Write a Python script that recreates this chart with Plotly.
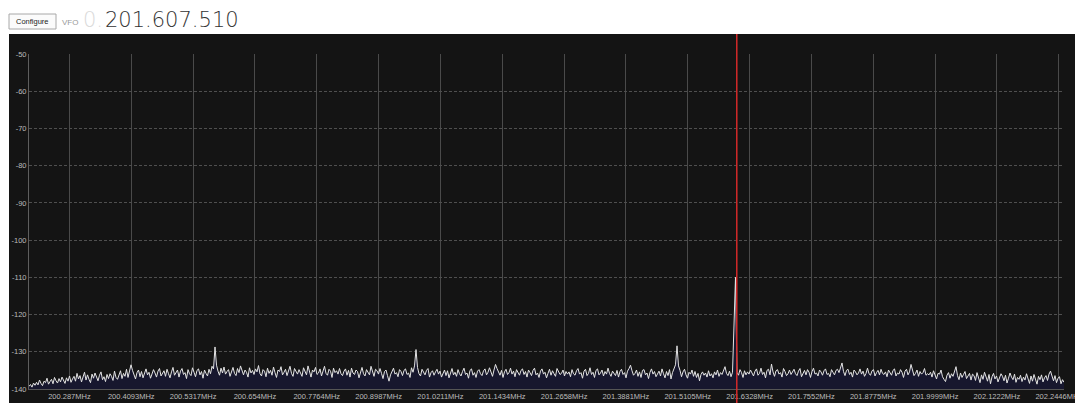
import plotly.graph_objects as go

# ---- data ----
F_START = 200.207          # MHz, left edge of the span
F_SPAN = 2.048             # MHz
FLOOR = -140               # dB, bottom of the scale
VFO_MHZ = 201.60751

TICK_FREQS = [200.287, 200.4093, 200.5317, 200.654, 200.7764, 200.8987, 201.0211,
              201.1434, 201.2658, 201.3881, 201.5105, 201.6328, 201.7552, 201.8775,
              201.9999, 202.1222, 202.2446]
TICK_LABELS = ["200.287MHz", "200.4093MHz", "200.5317MHz", "200.654MHz", "200.7764MHz",
               "200.8987MHz", "201.0211MHz", "201.1434MHz", "201.2658MHz", "201.3881MHz",
               "201.5105MHz", "201.6328MHz", "201.7552MHz", "201.8775MHz", "201.9999MHz",
               "202.1222MHz", "202.2446MHz"]
DB_TICKS = [-140, -130, -120, -110, -100, -90, -80, -70, -60, -50]

LEVELS = [
    -139.3, -138.8, -139.5, -138.4, -139.0, -138.2, -138.9, -137.6, -138.5, -139.1, -137.9, -138.3, -137.1, -138.7, -138.0, -137.4, -138.6, -136.9, -137.8, -138.4, -137.2, -138.1, -136.8, -137.7, -138.5, -137.0, -137.9, -136.5, -138.2, -137.3,
    -136.6, -137.9, -135.8, -137.3, -136.4, -138.1, -136.9, -135.5, -137.6, -136.2, -137.4, -138.3, -136.0, -137.1, -135.7, -136.8, -137.8, -136.3, -135.4, -137.5, -136.7, -138.0, -136.1, -137.2, -135.9, -136.6, -137.7, -135.2, -136.9, -137.4,
    -136.3, -135.1, -137.2, -135.8, -136.6, -134.7, -136.9, -135.4, -133.5, -135.0, -136.4, -137.3, -135.6, -134.9, -136.7, -135.3, -137.0, -135.9, -134.6, -136.2, -135.5, -137.1, -136.0, -134.8, -135.7, -136.8, -135.2, -134.5, -136.5, -135.8,
    -135.1, -136.6, -134.7, -135.9, -137.0, -135.4, -134.2, -136.3, -135.7, -134.9, -136.8, -135.2, -134.5, -136.1, -135.6, -137.2, -134.8, -135.9, -136.4, -134.3, -135.5, -136.7, -135.0, -134.6, -136.2, -135.3, -137.1, -134.9, -135.8, -136.5,
    -134.7, -135.9, -133.9, -134.6, -128.7, -133.6, -135.2, -136.3, -134.4, -135.7, -134.1, -136.0, -135.3, -134.8, -136.6, -135.0, -134.2, -135.8, -136.4, -134.5, -135.6, -133.8, -135.1, -136.2, -134.9, -135.5, -136.8, -134.3, -135.7, -135.0,
    -136.1, -134.6, -135.4, -133.7, -135.9, -136.5, -134.8, -135.2, -136.7, -134.4, -135.8, -135.0, -136.3, -134.1, -135.6, -136.9, -134.9, -135.3, -134.0, -136.2, -135.5, -134.7, -136.4, -135.1, -133.9, -135.8, -136.6, -134.5, -135.2, -136.0,
    -134.8, -135.7, -136.6, -134.3, -135.1, -136.2, -133.8, -135.5, -136.8, -134.9, -135.4, -134.2, -136.1, -135.7, -134.6, -136.5, -135.0, -133.9, -135.8, -136.3, -134.7, -135.2, -136.9, -134.4, -135.6, -135.1, -136.0, -134.5, -135.9, -136.4,
    -135.2, -134.6, -136.3, -135.0, -136.8, -134.4, -135.7, -136.1, -134.9, -135.3, -137.0, -135.6, -134.2, -135.9, -136.5, -134.8, -135.4, -136.2, -133.9, -135.7, -136.6, -134.7, -135.1, -136.0, -134.5, -135.8, -137.2, -135.3, -134.9, -136.4,
    -137.9, -136.2, -135.1, -134.4, -136.0, -135.6, -136.7, -134.8, -135.3, -136.4, -135.0, -134.6, -136.1, -135.7, -136.9, -134.3, -135.5, -133.8, -129.4, -134.2, -135.9, -136.5, -134.7, -135.4, -136.2, -135.0, -134.5, -136.8, -135.6, -135.1,
    -136.3, -135.4, -134.7, -136.0, -135.2, -136.8, -135.6, -134.9, -136.4, -135.1, -137.0, -135.8, -134.5, -136.2, -135.5, -136.6, -134.8, -135.9, -136.5, -135.3, -134.4, -136.1, -135.7, -137.1, -135.0, -134.6, -136.3, -135.6, -136.9, -135.2,
    -134.8, -135.9, -136.4, -135.1, -134.6, -136.2, -135.5, -134.3, -135.8, -136.6, -134.9, -133.4, -134.5, -135.7, -136.3, -135.0, -136.9, -135.4, -134.7, -136.1, -135.6, -134.4, -136.0, -135.2, -136.7, -134.8, -135.5, -136.3, -135.0, -134.6,
    -136.1, -135.3, -136.8, -134.9, -135.6, -136.4, -135.0, -134.4, -136.2, -135.7, -136.9, -135.2, -134.6, -136.0, -135.5, -137.0, -135.8, -134.7, -136.3, -135.1, -135.9, -136.6, -134.5, -135.4, -136.1, -135.8, -134.9, -136.5, -135.3, -136.0,
    -135.4, -136.7, -134.8, -135.9, -136.3, -135.1, -134.5, -136.0, -135.6, -137.1, -135.2, -134.7, -136.4, -135.8, -134.3, -136.1, -135.5, -136.9, -135.0, -134.6, -136.2, -135.7, -134.9, -136.5, -135.3, -136.0, -134.4, -135.8, -136.6, -135.2,
    -135.7, -136.4, -135.0, -136.8, -135.3, -134.7, -136.1, -135.6, -137.0, -135.2, -134.5, -133.6, -135.1, -136.3, -135.8, -134.9, -136.6, -135.4, -136.9, -135.0, -134.8, -136.2, -135.7, -137.2, -135.5, -134.6, -136.0, -135.3, -136.7, -135.9,
    -135.2, -136.5, -134.6, -135.9, -137.0, -135.3, -136.4, -134.8, -137.3, -135.6, -134.2, -133.5, -128.4, -133.8, -135.0, -136.7, -135.4, -134.7, -136.2, -137.1, -135.5, -136.0, -134.9, -136.6, -135.3, -136.9, -135.8, -137.8, -136.1, -135.4,
    -136.3, -135.7, -136.8, -135.1, -136.5, -135.9, -137.0, -135.4, -136.2, -134.9, -136.6, -135.6, -136.1, -135.0, -134.0, -135.8, -136.4, -135.2, -136.7, -135.5, -123.6, -110.0, -135.7, -136.3, -134.8, -135.6, -136.9, -135.1, -136.2, -135.4,
    -136.0, -134.9, -135.7, -136.5, -135.2, -134.6, -136.3, -135.8, -134.4, -136.1, -135.5, -137.0, -135.0, -134.7, -136.2, -133.3, -135.4, -136.6, -135.1, -134.8, -136.0, -135.6, -136.8, -134.5, -135.3, -136.4, -135.9, -134.9, -136.1, -135.2,
    -134.7, -135.9, -136.4, -135.2, -134.5, -136.7, -135.6, -135.0, -136.2, -134.8, -135.5, -136.9, -135.3, -134.4, -136.0, -135.7, -136.5, -134.9, -135.4, -136.3, -135.1, -134.6, -136.1, -135.8, -136.7, -134.8, -135.5, -136.2, -135.0, -134.7,
    -135.6, -134.5, -133.0, -135.3, -136.4, -135.0, -134.7, -136.1, -135.5, -136.8, -134.9, -135.4, -136.2, -135.7, -134.6, -136.0, -135.2, -136.6, -135.8, -134.4, -135.9, -136.3, -135.1, -134.8, -136.5, -135.6, -135.0, -136.2, -134.7, -135.8,
    -136.1, -135.4, -136.7, -134.9, -135.6, -136.3, -135.0, -134.6, -136.5, -135.7, -136.0, -134.8, -135.5, -136.9, -135.2, -134.7, -136.2, -135.4, -133.4, -135.1, -136.4, -135.8, -134.9, -136.6, -135.3, -136.0, -135.6, -134.5, -136.3, -135.9,
    -136.2, -135.5, -136.8, -135.1, -136.5, -137.3, -135.8, -136.0, -134.9, -136.7, -137.4, -138.0, -136.3, -135.6, -137.1, -135.9, -136.6, -135.2, -134.0, -136.4, -137.5, -135.7, -136.9, -136.1, -135.3, -137.2, -136.5, -135.8, -137.6, -136.0,
    -136.4, -137.7, -135.6, -136.9, -138.3, -136.2, -137.4, -135.5, -136.8, -137.9, -136.1, -138.6, -136.7, -135.8, -137.3, -136.5, -138.1, -137.0, -135.9, -136.6, -137.8, -136.3, -138.4, -137.1, -135.7, -136.8, -137.5, -136.0, -138.2, -136.9,
    -137.4, -136.3, -138.0, -136.8, -137.6, -135.9, -137.2, -138.5, -136.5, -137.9, -136.1, -137.3, -138.7, -136.6, -137.5, -136.2, -138.1, -137.0, -136.4, -137.7, -136.0, -135.2, -136.9, -137.8, -136.4, -138.3, -137.1, -136.7, -138.6, -137.5,
    -138.2,
]

# frequency of each FFT bin across the span
N = len(LEVELS)
FREQS = [F_START + F_SPAN * i / (N - 1) for i in range(N)]

# ---- layout geometry (pixels) ----
W, H = 1075, 403
ML, MR, MT, MB = 29, 11, 54, 14
PW, PH = W - ML - MR, H - MT - MB


def px(xp):
    return (xp - ML) / PW


def py(yp):
    return (H - MB - yp) / PH


BG = "#141414"

fig = go.Figure()
fig.add_trace(go.Scatter(x=FREQS, y=[FLOOR] * N, mode="lines", line=dict(width=0),
                         hoverinfo="skip", showlegend=False))
fig.add_trace(go.Scatter(x=FREQS, y=LEVELS, mode="lines",
                         line=dict(color="#e4e4e4", width=1),
                         fill="tonexty", fillcolor="#17172e",
                         hoverinfo="skip", showlegend=False))

shapes = [
    # dark panel behind the chart
    dict(type="rect", xref="paper", yref="paper", x0=px(9), x1=px(W), y0=py(H), y1=py(34),
         fillcolor=BG, line=dict(width=0), layer="below"),
    # configure button
    dict(type="rect", xref="paper", yref="paper", x0=px(9), x1=px(56), y0=py(29), y1=py(14),
         fillcolor="#fbfbfb", line=dict(color="#a8a8a8", width=1), layer="above"),
    # VFO marker
    dict(type="line", xref="x", yref="paper", x0=VFO_MHZ, x1=VFO_MHZ, y0=py(H), y1=py(34),
         line=dict(color="#d42a2a", width=1.5), layer="above"),
]

annotations = [
    dict(text="Configure", xref="paper", yref="paper", x=px(32.5), y=py(21.5),
         xanchor="center", yanchor="middle", showarrow=False,
         font=dict(family="Liberation Sans", size=7.5, color="#222222")),
    dict(text="VFO", xref="paper", yref="paper", x=px(60), y=py(22.5),
         xanchor="left", yanchor="middle", showarrow=False,
         font=dict(family="Liberation Sans", size=8, color="#9a9a9a")),
    dict(text="0.", xref="paper", yref="paper", x=px(81), y=py(20),
         xanchor="left", yanchor="middle", showarrow=False,
         font=dict(family="DejaVu Sans", size=21, color="#dadada", weight=200)),
    dict(text="201.607.510", xref="paper", yref="paper", x=px(103), y=py(20),
         xanchor="left", yanchor="middle", showarrow=False,
         font=dict(family="DejaVu Sans", size=21, color="#333333", weight=200)),
]

tickfont = dict(family="Liberation Sans", size=7.5, color="#bcbcbc")

fig.update_layout(
    width=W, height=H,
    margin=dict(l=ML, r=MR, t=MT, b=MB, pad=0),
    paper_bgcolor="#ffffff", plot_bgcolor=BG,
    shapes=shapes, annotations=annotations,
    showlegend=False, hovermode=False,
    xaxis=dict(range=[F_START, F_START + F_SPAN], tickvals=TICK_FREQS, ticktext=TICK_LABELS,
               showgrid=True, gridcolor="#4a4a4a", gridwidth=1, zeroline=False,
               showline=True, linecolor="#555555", linewidth=1, ticks="",
               ticklabeloverflow="allow",
               tickfont=tickfont, automargin=False, fixedrange=True),
    yaxis=dict(range=[FLOOR, -50], tickvals=DB_TICKS, ticktext=[str(v) for v in DB_TICKS],
               showgrid=True, gridcolor="#4f4f4f", gridwidth=1, griddash="3px,2px",
               zeroline=False, showline=True, linecolor="#5e5e5e", linewidth=1, ticks="",
               tickfont=tickfont, automargin=False, fixedrange=True),
)

fig.write_html("out.html", config={"displayModeBar": False},
               post_script="document.body.style.margin='0';document.body.style.overflow='hidden';")
